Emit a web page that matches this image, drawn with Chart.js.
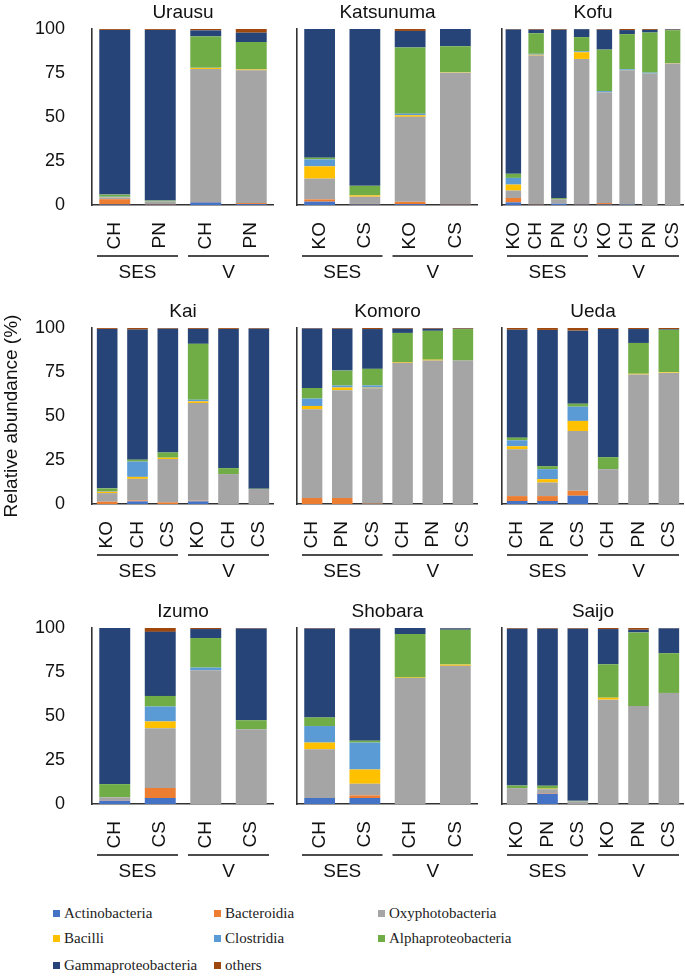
<!DOCTYPE html>
<html>
<head>
<meta charset="utf-8">
<script src="https://cdn.jsdelivr.net/npm/chart.js@4.4.1/dist/chart.umd.min.js"></script>
<style>
body { margin: 0; background: #fff; }
#wrap { position: relative; width: 685px; height: 976px; overflow: hidden; }
#wrap canvas { position: absolute; }
.leg { position: absolute; font-family: "Liberation Serif", "Times New Roman", serif; font-size: 15px; color: #222; white-space: nowrap; line-height: 18px; padding-left: 11px; }
.leg i { position: absolute; left: 0; top: 6px; width: 7px; height: 7px; }
</style>
</head>
<body>
<div id="wrap"></div>
<script>
// classes, bottom of the stack first
var classes = ['Actinobacteria', 'Bacteroidia', 'Oxyphotobacteria', 'Bacilli', 'Clostridia', 'Alphaproteobacteria', 'Gammaproteobacteria', 'others'];
var colors = ['#4472C4', '#ED7D31', '#A5A5A5', '#FFC000', '#5B9BD5', '#70AD47', '#264478', '#9E480E'];
var yTicks = [0, 25, 50, 75, 100];

// one row per sample, values in the order of classes (%)
var urausuSamples = ['CH', 'PN', 'CH', 'PN'];
var urausuGroups = ['SES', 'SES', 'V', 'V'];
var urausu = [
    [0.3, 3, 1, 0.2, 0.2, 1.2, 93.6, 0.5],
    [0.2, 0.3, 1.5, 0, 0, 0.5, 97, 0.5],
    [1.5, 0.2, 75.6, 0.6, 0.1, 17.8, 3.4, 0.8],
    [0.5, 0.6, 75.4, 0.5, 0.1, 15.5, 5.3, 2.1]
];

var katsunumaSamples = ['KO', 'CS', 'KO', 'CS'];
var katsunumaGroups = ['SES', 'SES', 'V', 'V'];
var katsunuma = [
    [1.9, 1.3, 11.8, 7, 3.9, 1, 73.1, 0],
    [0.3, 0.3, 4.1, 0.8, 0.1, 5.3, 89.1, 0],
    [0.5, 1.3, 48.3, 0.9, 0.9, 37.6, 9.4, 1.1],
    [0.2, 0.3, 74.7, 0.2, 0, 14.8, 9.8, 0]
];

var kofuSamples = ['KO', 'CH', 'PN', 'CS', 'KO', 'CH', 'PN', 'CS'];
var kofuGroups = ['SES', 'SES', 'SES', 'SES', 'V', 'V', 'V', 'V'];
var kofu = [
    [1.5, 2.5, 4.2, 3.4, 3.8, 2.3, 82, 0.3],
    [0.2, 0.3, 84.4, 0.5, 0.5, 11.7, 2.0, 0.4],
    [0.7, 0, 2.6, 0, 0, 0.6, 95.7, 0.4],
    [0.2, 0.2, 82.6, 3.8, 0.5, 8.1, 4.5, 0.1],
    [0.3, 0.8, 63, 0, 0.6, 23.6, 11.3, 0.4],
    [0.2, 0, 76.4, 0, 0.5, 20, 2.3, 0.6],
    [0, 0, 74.7, 0, 0.5, 22.8, 1.5, 0.5],
    [0, 0, 80.4, 0.2, 0, 18.7, 0.4, 0.3]
];

var kaiSamples = ['KO', 'CH', 'CS', 'KO', 'CH', 'CS'];
var kaiGroups = ['SES', 'SES', 'SES', 'V', 'V', 'V'];
var kai = [
    [0, 1.3, 4.9, 0.8, 0.4, 1.5, 90.6, 0.5],
    [1.5, 0.5, 12.3, 1.1, 8.7, 1.1, 73.9, 0.9],
    [0, 0.9, 24.6, 0.8, 0, 3, 70.3, 0.4],
    [1.5, 0.3, 55.6, 0.9, 0.9, 31.8, 8.5, 0.5],
    [0, 0, 17, 0, 0, 3.4, 79.1, 0.5],
    [0, 0, 8.5, 0, 0, 0.2, 90.9, 0.4]
];

var komoroSamples = ['CH', 'PN', 'CS', 'CH', 'PN', 'CS'];
var komoroGroups = ['SES', 'SES', 'SES', 'V', 'V', 'V'];
var komoro = [
    [0, 3.4, 50.4, 1.9, 4.2, 6, 33.8, 0.3],
    [0, 3.4, 61.3, 1.5, 1.1, 8.5, 23.8, 0.4],
    [0, 0.2, 65.5, 0.4, 1.3, 9.4, 22.6, 0.6],
    [0, 0, 80.2, 0.4, 0, 16.6, 2.4, 0.4],
    [0, 0, 81.5, 0.5, 0, 16.4, 1.2, 0.4],
    [0, 0, 81.5, 0, 0, 17.9, 0.2, 0.4]
];

var uedaSamples = ['CH', 'PN', 'CS', 'CH', 'PN', 'CS'];
var uedaGroups = ['SES', 'SES', 'SES', 'V', 'V', 'V'];
var ueda = [
    [1.7, 2.8, 26.6, 1.7, 3.4, 1.5, 61.3, 1],
    [1.7, 2.8, 7.7, 1.9, 5.7, 1.7, 77.4, 1.1],
    [4.7, 2.8, 34, 5.7, 8.1, 1.7, 41.5, 1.5],
    [0, 0, 19.8, 0, 0, 6.8, 72.8, 0.6],
    [0, 0, 73.6, 0.4, 0, 17.5, 7.9, 0.6],
    [0, 0, 74.5, 0.3, 0, 24.2, 0.4, 0.6]
];

var izumoSamples = ['CH', 'CS', 'CH', 'CS'];
var izumoGroups = ['SES', 'SES', 'V', 'V'];
var izumo = [
    [1.9, 0.2, 1.7, 0, 0, 7.5, 88.7, 0],
    [3.4, 5.7, 34, 3.8, 8.5, 6, 36.4, 2.2],
    [0, 0, 76, 0, 1.5, 16.8, 5.1, 0.6],
    [0, 0, 42.5, 0, 0, 5.1, 52.1, 0.3]
];

var shobaraSamples = ['CH', 'CS', 'CH', 'CS'];
var shobaraGroups = ['SES', 'SES', 'V', 'V'];
var shobara = [
    [3.4, 0, 27.7, 3.8, 9.4, 4.9, 50.5, 0.3],
    [3.4, 1.5, 6.6, 8.1, 15.3, 1.1, 63.7, 0.3],
    [0, 0, 71.6, 0.3, 0, 24.7, 3.4, 0],
    [0, 0, 78.5, 0.7, 0, 19.8, 0.8, 0.2]
];

var saijoSamples = ['KO', 'PN', 'CS', 'KO', 'PN', 'CS'];
var saijoGroups = ['SES', 'SES', 'SES', 'V', 'V', 'V'];
var saijo = [
    [0, 0, 9, 0, 0, 1.5, 89.1, 0.4],
    [5.8, 0.3, 2.3, 0.3, 0, 1.7, 89.2, 0.4],
    [0, 0, 1.5, 0, 0, 0.3, 97.8, 0.4],
    [0, 0, 59.3, 1.1, 0, 19, 20, 0.6],
    [0, 0, 55.7, 0, 0, 41.8, 1.5, 1.0],
    [0, 0, 63.1, 0, 0, 22.6, 14.1, 0.2]
];

var panels = [
    ['Urausu', urausuSamples, urausuGroups, urausu],
    ['Katsunuma', katsunumaSamples, katsunumaGroups, katsunuma],
    ['Kofu', kofuSamples, kofuGroups, kofu],
    ['Kai', kaiSamples, kaiGroups, kai],
    ['Komoro', komoroSamples, komoroGroups, komoro],
    ['Ueda', uedaSamples, uedaGroups, ueda],
    ['Izumo', izumoSamples, izumoGroups, izumo],
    ['Shobara', shobaraSamples, shobaraGroups, shobara],
    ['Saijo', saijoSamples, saijoGroups, saijo]
];

// layout of the grid
var colLeft = [0, 237, 442];
var colWidth = [274, 241, 242];
var axisWidth = [92, 60, 60];
var rowTop = [0, 299, 599];
var canvasH = 285;

var FONT = '"Liberation Sans", Arial, sans-serif';
Chart.defaults.font.family = FONT;
Chart.defaults.color = '#111';

// SES / V brackets under the sample labels
function groupPlugin(groups) {
    return {
        id: 'groupLines',
        afterDraw: function(chart) {
            var x = chart.scales.x, ctx = chart.ctx;
            var cw = x.width / groups.length;
            var yLine = chart.chartArea.bottom + 51;
            ctx.save();
            ctx.strokeStyle = '#111';
            ctx.fillStyle = '#111';
            ctx.lineWidth = 1.6;
            ctx.font = '19px ' + FONT;
            ctx.textAlign = 'center';
            ctx.textBaseline = 'middle';
            var i = 0;
            while (i < groups.length) {
                var j = i;
                while (j + 1 < groups.length && groups[j + 1] === groups[i]) j++;
                var x0 = x.getPixelForValue(i) - cw / 2 + 5;
                var x1 = x.getPixelForValue(j) + cw / 2 - 5;
                ctx.beginPath();
                ctx.moveTo(x0, yLine);
                ctx.lineTo(x1, yLine);
                ctx.stroke();
                ctx.fillText(groups[i], (x0 + x1) / 2, yLine + 17);
                i = j + 1;
            }
            ctx.restore();
        }
    };
}

var wrap = document.getElementById('wrap');

panels.forEach(function(p, k) {
    var col = k % 3, row = Math.floor(k / 3);
    var cv = document.createElement('canvas');
    cv.width = colWidth[col];
    cv.height = canvasH;
    cv.style.left = colLeft[col] + 'px';
    cv.style.top = rowTop[row] + 'px';
    cv.style.width = colWidth[col] + 'px';
    cv.style.height = canvasH + 'px';
    wrap.appendChild(cv);

    var rows = p[3];
    var datasets = classes.map(function(name, c) {
        return {
            label: name,
            data: rows.map(function(r) { return r[c]; }),
            backgroundColor: colors[c],
            borderWidth: 0,
            categoryPercentage: 1,
            barPercentage: 0.68
        };
    });

    new Chart(cv, {
        type: 'bar',
        data: { labels: p[1], datasets: datasets },
        options: {
            responsive: false,
            animation: false,
            devicePixelRatio: 1,
            layout: { padding: { left: 0, right: 0, top: 0, bottom: 0 } },
            plugins: {
                legend: { display: false },
                tooltip: { enabled: false },
                title: {
                    display: true,
                    text: p[0],
                    fullSize: false,
                    color: '#111',
                    font: { size: 19, weight: 'normal' },
                    padding: { top: 1.6, bottom: 4.6 }
                }
            },
            scales: {
                x: {
                    stacked: true,
                    grid: { display: false },
                    border: { display: true, color: '#333', width: 1.6 },
                    ticks: {
                        autoSkip: false,
                        maxRotation: 90,
                        minRotation: 90,
                        padding: 9,
                        color: '#111',
                        font: { size: 19 }
                    },
                    afterFit: function(s) {
                        s.height = 80;
                        s.paddingLeft = 0;
                        s.paddingRight = 0;
                    }
                },
                y: {
                    stacked: true,
                    min: 0,
                    max: 100,
                    grid: { display: false },
                    border: { display: true, color: '#333', width: 1.6 },
                    ticks: {
                        display: col === 0,
                        padding: 19,
                        color: '#111',
                        font: { size: 18 }
                    },
                    title: {
                        display: k === 3,
                        text: 'Relative abundance (%)',
                        color: '#111',
                        font: { size: 19 },
                        padding: { top: 0, bottom: 0 }
                    },
                    afterBuildTicks: function(s) {
                        s.ticks = yTicks.map(function(v) { return { value: v }; });
                    },
                    afterFit: function(s) {
                        s.width = axisWidth[col];
                        s.paddingTop = 0;
                        s.paddingBottom = 0;
                    }
                }
            }
        },
        plugins: [groupPlugin(p[2])]
    });
});

// legend, three columns
var legX = [53, 214, 378];
var legY = [913, 938, 965];
classes.forEach(function(name, c) {
    var d = document.createElement('div');
    d.className = 'leg';
    d.style.left = legX[c % 3] + 'px';
    d.style.top = (legY[Math.floor(c / 3)] - 9) + 'px';
    d.innerHTML = '<i style="background:' + colors[c] + '"></i>' + name;
    wrap.appendChild(d);
});
</script>
</body>
</html>
